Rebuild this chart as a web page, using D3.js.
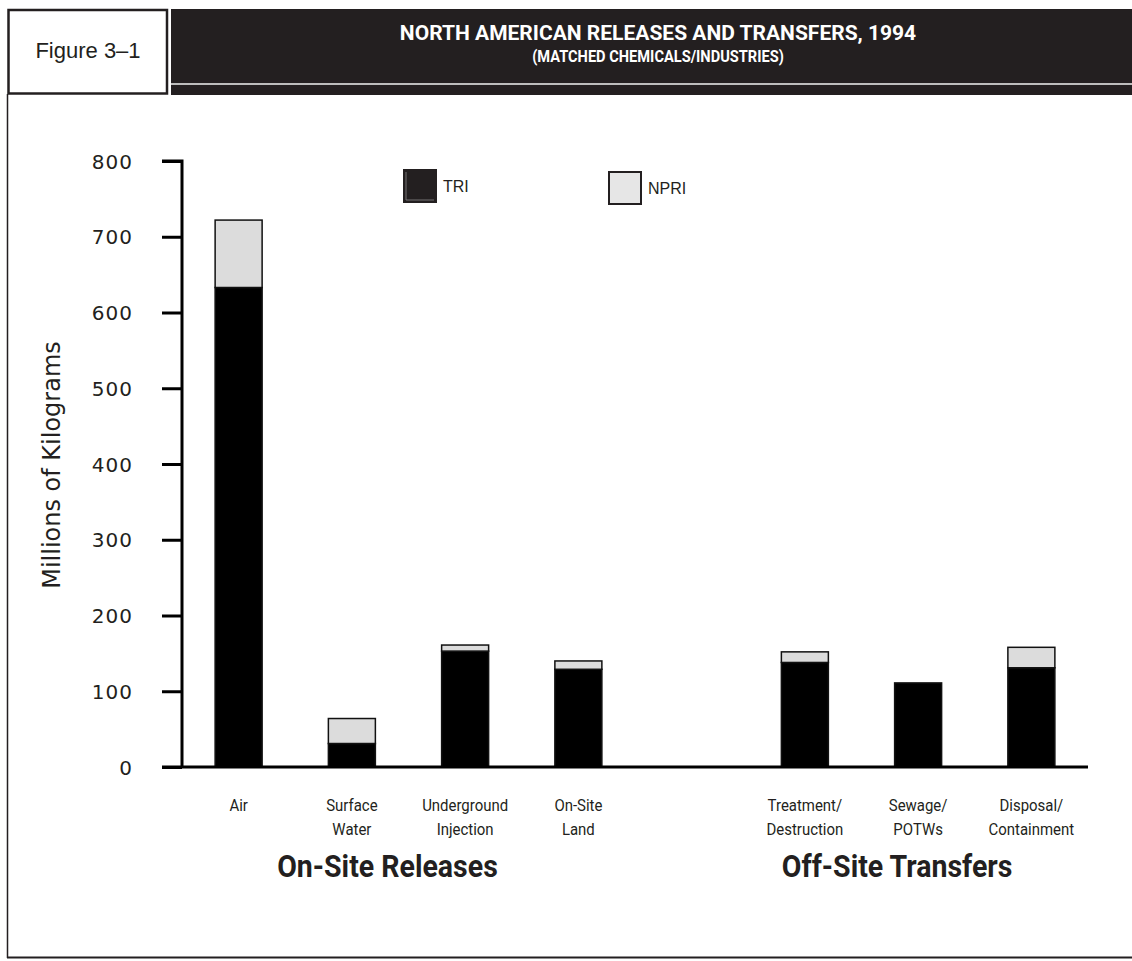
<!DOCTYPE html>
<html>
<head>
<meta charset="utf-8">
<script src="https://cdn.jsdelivr.net/npm/d3@7"></script>
<style>
  html, body { margin: 0; padding: 0; background: #fff; }
  svg { display: block; }
  .cond { font-family: "Roboto", "Lato", sans-serif; }
  .geo { font-family: "DejaVu Sans", sans-serif; }
  .hel { font-family: "Liberation Sans", Arial, sans-serif; }
</style>
</head>
<body>
<svg id="chart" width="1132" height="961"></svg>
<script>
// ---- data ----
const categories = ["Air", "Surface Water", "Underground Injection", "On-Site Land", "", "Treatment/ Destruction", "Sewage/ POTWs", "Disposal/ Containment"];
const categoryLines = [["Air"], ["Surface", "Water"], ["Underground", "Injection"], ["On-Site", "Land"], [], ["Treatment/", "Destruction"], ["Sewage/", "POTWs"], ["Disposal/", "Containment"]];
const triValues  = [633, 31, 153, 129, null, 138, 111, 131];
const npriValues = [89, 33, 8, 11, null, 14, 0, 27];
const seriesNames = ["TRI", "NPRI"];
const yTicks = [0, 100, 200, 300, 400, 500, 600, 700, 800];
const groupLabels = ["On-Site Releases", "Off-Site Transfers"];
const groupMembers = [[0, 1, 2, 3], [5, 6, 7]];
const titleLines = ["NORTH AMERICAN RELEASES AND TRANSFERS, 1994", "(MATCHED CHEMICALS/INDUSTRIES)"];
const figureLabel = "Figure 3\u20131";
const yTitle = "Millions of Kilograms";

// ---- layout ----
const svg = d3.select("#chart");
const colors = { TRI: "#000000", NPRI: "#dcdcdc" };

// helper: horizontally condensed text
function condText(parent, str, cx, cy, size, sx, opts = {}) {
  return parent.append("text")
    .attr("class", opts.cls || "cond")
    .attr("transform", `translate(${cx},${cy}) scale(${sx},1)`)
    .attr("text-anchor", opts.anchor || "middle")
    .attr("font-size", size)
    .attr("font-weight", opts.weight || "normal")
    .attr("fill", opts.fill || "#231f20")
    .text(str);
}

// frame
svg.append("rect").attr("x", 171).attr("y", 9).attr("width", 961).attr("height", 86).attr("fill", "#231f20");
svg.append("rect").attr("x", 171).attr("y", 83).attr("width", 961).attr("height", 2).attr("fill", "#bdbdbd");
svg.append("rect").attr("x", 8.5).attr("y", 10).attr("width", 158.5).attr("height", 83.5)
  .attr("fill", "#fff").attr("stroke", "#231f20").attr("stroke-width", 2.5);
svg.append("line").attr("x1", 7.5).attr("x2", 7.5).attr("y1", 94).attr("y2", 958).attr("stroke", "#231f20").attr("stroke-width", 1.5);
svg.append("line").attr("x1", 7).attr("x2", 1132).attr("y1", 957.5).attr("y2", 957.5).attr("stroke", "#231f20").attr("stroke-width", 2);

svg.append("text").attr("class", "hel").attr("x", 88).attr("y", 58).attr("text-anchor", "middle")
  .attr("font-size", 22).attr("fill", "#231f20").text(figureLabel);

condText(svg, titleLines[0], 658, 40, 21, 1.0, { weight: "bold", fill: "#fff" });
condText(svg, titleLines[1], 658, 62, 17, 0.86, { weight: "bold", fill: "#fff" });

// scales
const x = d3.scaleBand().domain(categories.map((c, i) => i)).range([182, 1088]).paddingInner(0.585).paddingOuter(0.2925);
const y = d3.scaleLinear().domain([0, 800]).range([767, 161]);

// y axis
const yAxis = d3.axisLeft(y).tickValues(yTicks).tickSize(20).tickPadding(29).tickFormat(d3.format("d"));
const gy = svg.append("g").attr("transform", "translate(182,0)").call(yAxis);
gy.select(".domain").attr("stroke", "#000").attr("stroke-width", 3).attr("d", "M-20,161H0V767");
gy.selectAll(".tick line").attr("stroke", "#000").attr("stroke-width", 3);
gy.selectAll(".tick text").attr("class", "geo").attr("font-size", 20).attr("letter-spacing", 1)
  .attr("fill", "#231f20").attr("dy", "0.35em");

svg.append("text").attr("class", "geo").attr("transform", "translate(60,465) rotate(-90)")
  .attr("text-anchor", "middle").attr("font-size", 24).attr("fill", "#231f20").text(yTitle);

// bars
const stackData = categories.map((c, i) => ({ i, TRI: triValues[i], NPRI: npriValues[i] })).filter(d => d.TRI != null);
const stack = d3.stack().keys(seriesNames)(stackData);
const barG = svg.append("g");
stack.forEach(layer => {
  barG.selectAll(null).data(layer.filter(d => d[1] - d[0] > 0)).enter().append("rect")
    .attr("x", d => x(d.data.i))
    .attr("width", x.bandwidth())
    .attr("y", d => y(d[1]))
    .attr("height", d => y(d[0]) - y(d[1]))
    .attr("fill", colors[layer.key])
    .attr("stroke", "#111")
    .attr("stroke-width", 1.5);
});

// x baseline
svg.append("line").attr("x1", 162).attr("x2", 1088).attr("y1", y(0)).attr("y2", y(0))
  .attr("stroke", "#000").attr("stroke-width", 3);

// category labels
categoryLines.forEach((lines, i) => {
  lines.forEach((l, k) => {
    condText(svg, l, x(i) + x.bandwidth() / 2, 811 + k * 24, 17, 0.88);
  });
});

// group labels
const groupShift = -21;
groupLabels.forEach((g, gi) => {
  const m = groupMembers[gi];
  const cx = (x(m[0]) + x(m[m.length - 1]) + x.bandwidth()) / 2 + groupShift;
  condText(svg, g, cx, 877, 31, 0.92, { weight: "bold" });
});

// legend
const legendPos = [{ x: 403, y: 169 }, { x: 608, y: 171 }];
seriesNames.forEach((s, i) => {
  const p = legendPos[i];
  svg.append("rect").attr("x", p.x + 1).attr("y", p.y + 1).attr("width", 32).attr("height", 32)
    .attr("fill", s === "TRI" ? "#231f20" : "#e6e6e6").attr("stroke", "#231f20").attr("stroke-width", 2);
  if (s === "TRI") {
    svg.append("path").attr("d", `M${p.x + 3},${p.y + 3}V${p.y + 31}H${p.x + 31}`)
      .attr("fill", "none").attr("stroke", "#888").attr("stroke-width", 0.8);
  }
  svg.append("text").attr("class", "hel").attr("x", p.x + 40).attr("y", p.y + 23)
    .attr("font-size", 16).attr("fill", "#231f20").text(s);
});
</script>
</body>
</html>
